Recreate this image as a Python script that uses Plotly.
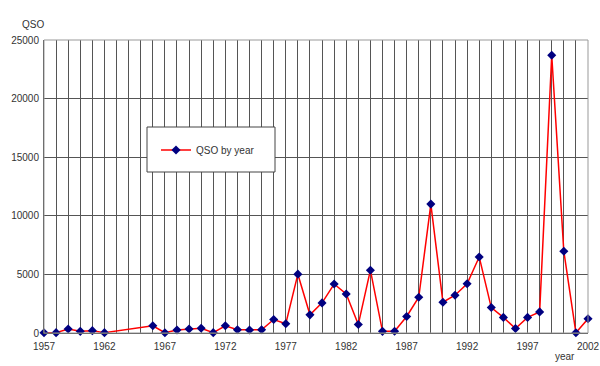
import plotly.graph_objects as go

years = [1957, 1958, 1959, 1960, 1961, 1962, 1966, 1967, 1968, 1969, 1970,
         1971, 1972, 1973, 1974, 1975, 1976, 1977, 1978, 1979, 1980, 1981,
         1982, 1983, 1984, 1985, 1986, 1987, 1988, 1989, 1990, 1991, 1992,
         1993, 1994, 1995, 1996, 1997, 1998, 1999, 2000, 2001, 2002]
qso = [20, 30, 340, 140, 200, 30, 620, 20, 250, 340, 400,
       30, 620, 280, 250, 280, 1150, 790, 5020, 1550, 2570, 4180,
       3330, 730, 5360, 140, 150, 1410, 3050, 11000, 2630, 3220, 4200,
       6490, 2170, 1330, 390, 1330, 1800, 23700, 6970, 20, 1210]
y_ticks = [0, 5000, 10000, 15000, 20000, 25000]
x_ticks = [1957, 1962, 1967, 1972, 1977, 1982, 1987, 1992, 1997, 2002]

FONT = "Liberation Sans"
W, H = 600, 366
L, R, T, B = 44, 12, 40, 33
PW, PH = W - L - R, H - T - B


def px(x):
    return (x - L) / PW


def py(y):
    return (H - B - y) / PH


fig = go.Figure()
fig.add_trace(go.Scatter(
    x=years, y=qso, mode="lines+markers", name="QSO by year",
    line=dict(color="#ff0000", width=1.5),
    marker=dict(symbol="diamond", color="#000080", size=7),
    cliponaxis=False,
))

fig.update_layout(
    width=W, height=H,
    margin=dict(l=L, r=R, t=T, b=B, autoexpand=False),
    paper_bgcolor="white", plot_bgcolor="white",
    font=dict(family=FONT, size=10, color="#333333"),
    showlegend=True,
    legend=dict(x=px(156), y=py(150), xanchor="left", yanchor="middle",
                bgcolor="rgba(0,0,0,0)", borderwidth=0,
                font=dict(family=FONT, size=10, color="#333333"),
                itemwidth=30),
    xaxis=dict(range=[1957, 2002], tickvals=x_ticks, showgrid=True,
               gridcolor="#555555", gridwidth=1, automargin=False,
               minor=dict(dtick=1, tick0=1957, showgrid=True,
                          gridcolor="#555555", gridwidth=1),
               showline=True, linecolor="#444444", linewidth=1,
               ticks="", zeroline=False, ticklabelstandoff=4),
    yaxis=dict(range=[0, 25000], tickvals=y_ticks, tickformat="d",
               showgrid=True, gridcolor="#555555", gridwidth=1,
               automargin=False,
               showline=True, linecolor="#444444", linewidth=1,
               ticks="", zeroline=False, ticklabelstandoff=2),
    shapes=[
        dict(type="rect", xref="paper", yref="paper", x0=0, x1=1, y0=0, y1=1,
             line=dict(color="#999999", width=1), layer="above"),
        dict(type="rect", xref="paper", yref="paper",
             x0=px(147), x1=px(275), y0=py(172), y1=py(127),
             line=dict(color="#444444", width=1), fillcolor="white",
             layer="above"),
    ],
    annotations=[
        dict(text="QSO", x=px(33), y=py(24), xref="paper", yref="paper",
             xanchor="center", yanchor="middle",
             showarrow=False, font=dict(family=FONT, size=10, color="#333333")),
        dict(text="year", x=px(565), y=py(357), xref="paper", yref="paper",
             xanchor="center", yanchor="middle",
             showarrow=False, font=dict(family=FONT, size=10, color="#333333")),
    ],
)

fig.write_html(
    "out.html",
    config={"displayModeBar": False},
    post_script="document.body.style.margin='0';"
                "document.body.style.overflow='hidden';",
)
